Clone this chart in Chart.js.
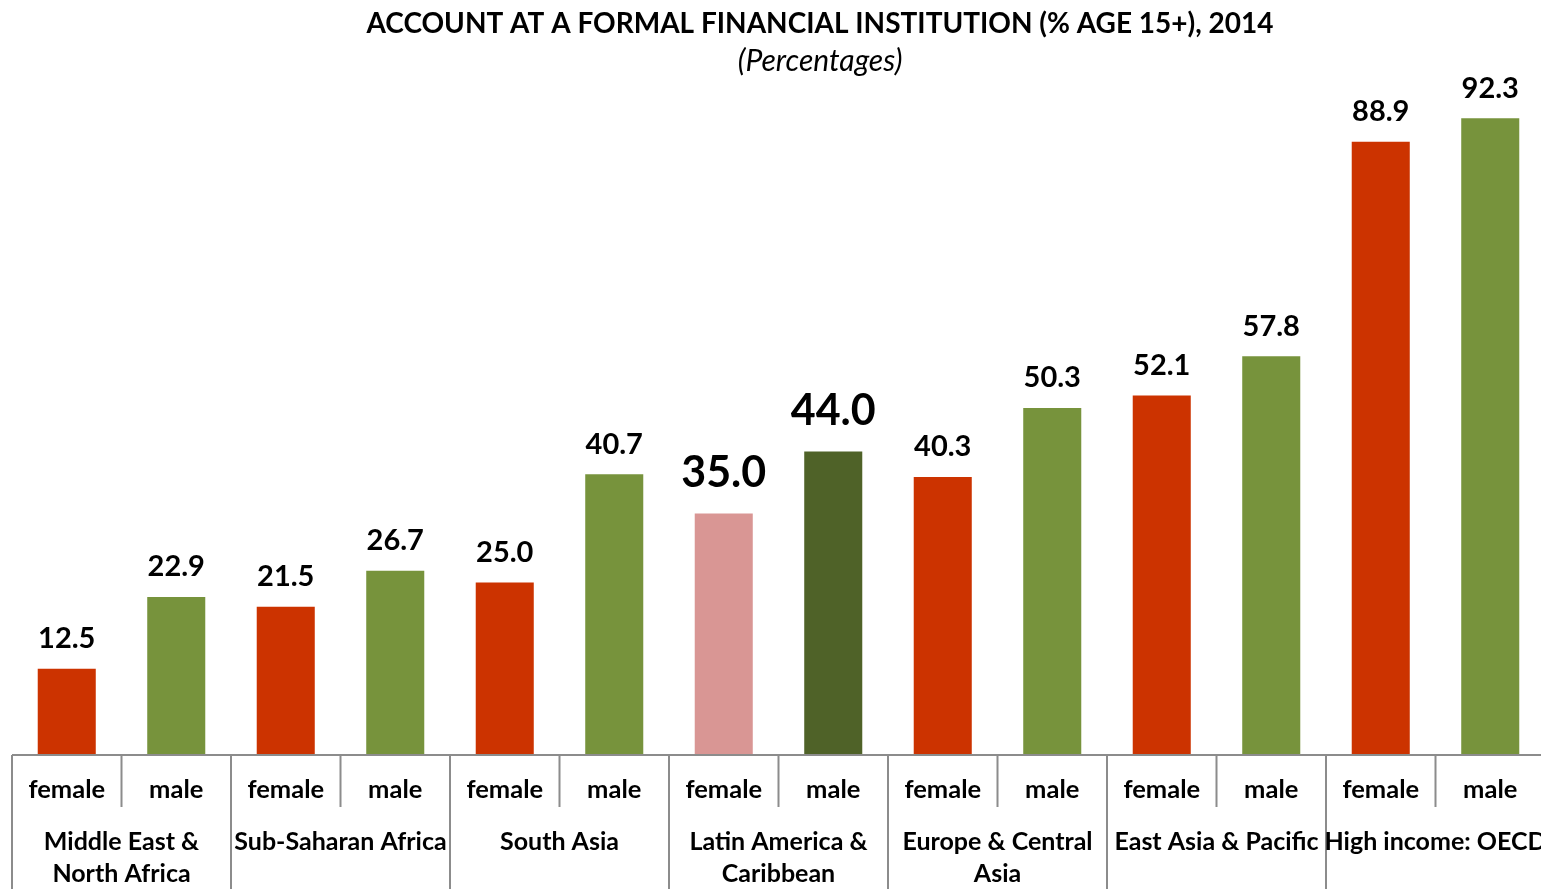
<!DOCTYPE html>
<html>
<head>
<meta charset="utf-8">
<script src="https://cdn.jsdelivr.net/npm/chart.js@4"></script>
<style>
  html, body { margin: 0; padding: 0; background: #fff; overflow: hidden; }
</style>
</head>
<body>
<canvas id="chart" width="1545" height="889"></canvas>
<script>
// data
const title = 'ACCOUNT AT A FORMAL FINANCIAL INSTITUTION (% AGE 15+), 2014';
const subtitle = '(Percentages)';
const regions = [
  ['Middle East &', 'North Africa'],
  ['Sub-Saharan Africa'],
  ['South Asia'],
  ['Latin America &', 'Caribbean'],
  ['Europe & Central', 'Asia'],
  ['East Asia & Pacific'],
  ['High income: OECD']
];
const sexes = ['female', 'male'];
const femaleValues = [12.5, 21.5, 25.0, 35.0, 40.3, 52.1, 88.9];
const maleValues = [22.9, 26.7, 40.7, 44.0, 50.3, 57.8, 92.3];
const highlightRegion = 3; // Latin America & Caribbean

const FONT = 'Lato, "Open Sans", sans-serif';

// build one bar per region/sex pair
const labels = [];
const values = [];
const colors = [];
const highlighted = [];
regions.forEach((r, i) => {
  labels.push(r.join(' ') + ' female', r.join(' ') + ' male');
  values.push(femaleValues[i], maleValues[i]);
  const hl = i === highlightRegion;
  colors.push(hl ? '#D99694' : '#CC3300', hl ? '#4F6228' : '#77933C');
  highlighted.push(hl, hl);
});

// titles, value labels, axis line and the two-level category axis
const drawExtras = {
  id: 'drawExtras',
  afterDatasetsDraw(chart) {
    const ctx = chart.ctx;
    const meta = chart.getDatasetMeta(0);
    const x = chart.scales.x;
    const area = chart.chartArea;
    const bottom = chart.height;

    ctx.save();
    ctx.fillStyle = '#000';
    ctx.textAlign = 'center';
    ctx.textBaseline = 'middle';

    ctx.font = 'bold 28px ' + FONT;
    ctx.fillText(title, 820, 24);
    ctx.font = 'italic 30px ' + FONT;
    ctx.fillText(subtitle, 820, 61);

    meta.data.forEach((bar, i) => {
      const big = highlighted[i];
      ctx.font = 'bold ' + (big ? 43 : 29) + 'px ' + FONT;
      ctx.fillText(values[i].toFixed(1), bar.x, bar.y - (big ? 40 : 30));
    });

    // axis line
    ctx.strokeStyle = '#8c8c8c';
    ctx.lineWidth = 2;
    ctx.beginPath();
    ctx.moveTo(area.left, area.bottom);
    ctx.lineTo(area.right, area.bottom);
    ctx.stroke();

    const half = (x.getPixelForValue(1) - x.getPixelForValue(0)) / 2;
    ctx.beginPath();
    for (let i = 0; i < labels.length; i++) {
      const left = x.getPixelForValue(i) - half;
      if (i % 2 === 0) {
        ctx.moveTo(left, area.bottom);
        ctx.lineTo(left, bottom);
      } else {
        ctx.moveTo(left, area.bottom);
        ctx.lineTo(left, area.bottom + 52);
      }
    }
    ctx.stroke();

    ctx.font = 'bold 25.5px ' + FONT;
    for (let i = 0; i < labels.length; i++) {
      ctx.fillText(sexes[i % 2], x.getPixelForValue(i), area.bottom + 35);
    }
    ctx.font = 'bold 25px ' + FONT;
    regions.forEach((r, g) => {
      const cx = (x.getPixelForValue(g * 2) + x.getPixelForValue(g * 2 + 1)) / 2;
      r.forEach((line, k) => {
        ctx.fillText(line, cx, area.bottom + 87 + k * 32);
      });
    });
    ctx.restore();
  }
};

new Chart(document.getElementById('chart'), {
  type: 'bar',
  data: {
    labels: labels,
    datasets: [{
      data: values,
      backgroundColor: colors,
      barPercentage: 0.53,
      categoryPercentage: 1
    }]
  },
  options: {
    responsive: false,
    animation: false,
    layout: { padding: { left: 12, right: 0, top: 90, bottom: 134 } },
    plugins: {
      legend: { display: false },
      tooltip: { enabled: false }
    },
    scales: {
      x: { display: false },
      y: { display: false, min: 0, max: 96.4 }
    }
  },
  plugins: [drawExtras]
});
</script>
</body>
</html>
